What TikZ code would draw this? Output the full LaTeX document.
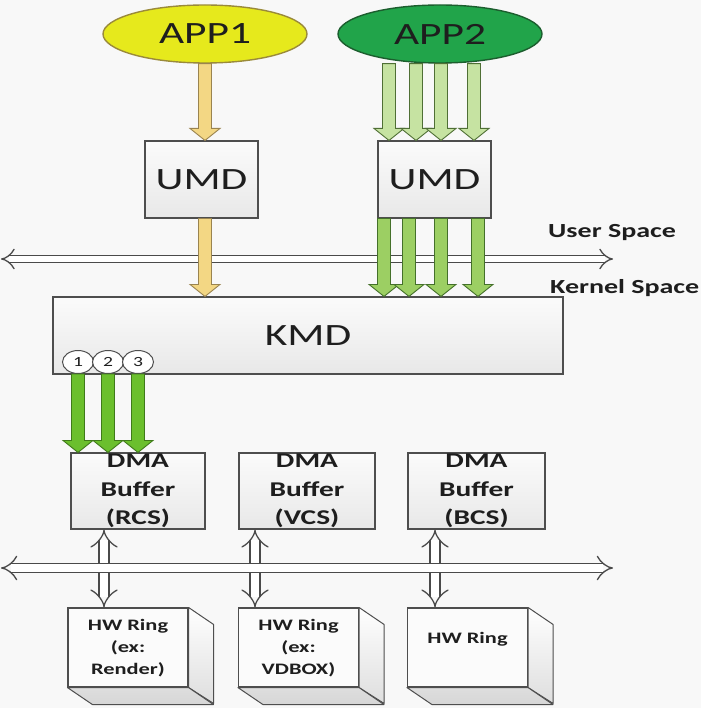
\documentclass[tikz,border=0pt]{standalone}
\usepackage{fontspec}
\setmainfont{Carlito}[FakeStretch=1.4]
\usetikzlibrary{arrows.meta,calc,shapes.geometric}

\definecolor{bg}{HTML}{F8F8F8}
\definecolor{txt}{HTML}{1E1E1E}
\definecolor{boxline}{HTML}{4E4E4E}
\definecolor{boxtop}{HTML}{FBFBFB}
\definecolor{boxbot}{HTML}{E8E8E8}
\definecolor{busline}{HTML}{4A4A4A}
\definecolor{yelfill}{HTML}{E6E91C}
\definecolor{yelline}{HTML}{9A8A3A}
\definecolor{grnfill}{HTML}{21A44A}
\definecolor{grnline}{HTML}{1C5E2E}
\definecolor{aonefill}{HTML}{F3D784}
\definecolor{aoneline}{HTML}{9A8450}
\definecolor{atwofill}{HTML}{C6E3A2}
\definecolor{atwoline}{HTML}{4F6F35}
\definecolor{amidfill}{HTML}{9CCF63}
\definecolor{amidline}{HTML}{44702A}
\definecolor{kmdfill}{HTML}{6BBF2D}
\definecolor{kmdline}{HTML}{3F7A1A}
\definecolor{sidefill}{HTML}{DEDEDE}
\definecolor{botfill}{HTML}{D6D6D6}

\newcommand\barr[3]{\draw[#1] let \p1=(#2), \p2=(#3) in
  (\x1-6.5pt,\y1) -- (\x1-6.5pt,\y2+12pt) -- (\x1-15pt,\y2+12pt) -- (\x1,\y2)
  -- (\x1+15pt,\y2+12pt) -- (\x1+6.5pt,\y2+12pt) -- (\x1+6.5pt,\y1) -- cycle;}

\begin{document}
\begin{tikzpicture}[x=1pt,y=-1pt,
  box/.style={draw=boxline, line width=1.1pt, top color=boxtop, bottom color=boxbot,
    inner sep=0pt, text=txt},
  app/.style={ellipse, line width=1.4pt, minimum width=204pt, minimum height=58pt,
    inner sep=0pt, text=txt, font=\fontsize{31}{36}\selectfont},
  big/.style={box, font=\fontsize{31}{36}\selectfont},
  dmabox/.style={box, minimum height=76pt, align=center,
    font=\fontsize{21}{28.5}\selectfont\bfseries},
  hwface/.style={draw=boxline, line width=1.1pt, fill=boxtop, minimum width=120pt,
    minimum height=79pt, inner sep=0pt},
  hwtext/.style={anchor=north, inner sep=0pt, align=center, text=txt,
    font=\fontsize{16}{22}\selectfont\bfseries},
  sidetext/.style={anchor=base west, inner sep=0pt, text=txt,
    font=\fontsize{20}{24}\selectfont\bfseries},
  num/.style={ellipse, draw=boxline, line width=1pt, fill=white, minimum width=31pt,
    minimum height=23pt, inner sep=0pt, text=txt, font=\fontsize{14}{16}\selectfont},
  bararrow/.style={line width=0.9pt, line join=miter},
  aone/.style={bararrow, fill=aonefill, draw=aoneline},
  atwo/.style={bararrow, fill=atwofill, draw=atwoline},
  amid/.style={bararrow, fill=amidfill, draw=amidline},
  akmd/.style={bararrow, fill=kmdfill, draw=kmdline},
  bus/.style={draw=busline, double=white, double distance=6pt, line width=1.3pt,
    {Implies[length=7pt,width=18pt]}-{Implies[length=7pt,width=18pt]}},
  lbus/.style={bus, double distance=7.5pt},
  vbus/.style={bus, double distance=8.5pt,
    {Implies[length=6pt,width=25pt]}-{Implies[length=6pt,width=25pt]}},
  side/.style={draw=boxline, line width=1pt, line join=round}
]
\useasboundingbox[fill=bg] (0,0) rectangle (701,708);

% apps
\node[app, fill=yelfill, draw=yelline] (app1) at (205,34) {APP1};
\node[app, fill=grnfill, draw=grnline] (app2) at (440,34) {APP2};

% UMD and KMD boxes
\node[big, minimum width=113pt, minimum height=77pt] (umd1) at (201.5,179.5) {UMD};
\node[big, minimum width=113pt, minimum height=77pt] (umd2) at (434.5,179.5) {UMD};
\node[big, minimum width=510pt, minimum height=77pt] (kmd) at (308,335.5) {KMD};

\node[sidetext] (us) at (548,238) {User Space};
\node[sidetext] (ks) at (550,293) {Kernel Space};

% DMA buffers
\node[dmabox, minimum width=134pt] (dma1) at (138,491) {DMA\\Buffer\\(RCS)};
\node[dmabox, minimum width=136pt] (dma2) at (307,491) {DMA\\Buffer\\(VCS)};
\node[dmabox, minimum width=137pt] (dma3) at (476.5,491) {DMA\\Buffer\\(BCS)};

% HW rings (cuboids)
\node[hwface] (hw1) at (128,647.5) {};
\node[hwface] (hw2) at (298.5,647.5) {};
\node[hwface] (hw3) at (467.5,647.5) {};
\foreach \h in {hw1,hw2,hw3}{
  \draw[side, top color=white, bottom color=sidefill]
    (\h.north east) -- ++(25,17) -- ++(0,79) -- (\h.south east) -- cycle;
  \draw[side, top color=sidefill, bottom color=botfill]
    (\h.south west) -- (\h.south east) -- ++(25,17) -- ($(\h.south west)+(25,17)$) -- cycle;
}
\node[hwtext] (hwt1) at (128,619) {HW Ring\\(ex:\\Render)};
\node[hwtext] (hwt2) at (298.5,619) {HW Ring\\(ex:\\VDBOX)};
\node[hwtext] (hwt3) at (467.5,632) {HW Ring};

% DMA <-> HW double arrows
\coordinate (v1) at (104,0);
\coordinate (v2) at (255,0);
\coordinate (v3) at (435,0);
\draw[vbus] (dma1.south -| v1) -- (hw1.north -| v1);
\draw[vbus] (dma2.south -| v2) -- (hw2.north -| v2);
\draw[vbus] (dma3.south -| v3) -- (hw3.north -| v3);

% buses
\coordinate (ubl) at (1,259);
\coordinate (ubr) at (613,259);
\coordinate (lbl) at (1,568);
\coordinate (lbr) at (613,568);
\draw[bus] (ubl) -- (ubr);
\draw[lbus] (lbl) -- (lbr);

% arrow x positions
\coordinate (p1) at (205,0);
\coordinate (t1) at (389,0);
\coordinate (t2) at (416,0);
\coordinate (t3) at (441,0);
\coordinate (t4) at (474,0);
\coordinate (m1) at (384,0);
\coordinate (m2) at (409,0);
\coordinate (m3) at (441,0);
\coordinate (m4) at (478,0);

% APP1 path
\barr{aone}{app1.south -| p1}{umd1.north -| p1}
\barr{aone}{umd1.south -| p1}{kmd.north -| p1}
% APP2 paths
\barr{atwo}{app2.south -| t1}{umd2.north -| t1}
\barr{atwo}{app2.south -| t2}{umd2.north -| t2}
\barr{atwo}{app2.south -| t3}{umd2.north -| t3}
\barr{atwo}{app2.south -| t4}{umd2.north -| t4}
\barr{amid}{umd2.south -| m1}{kmd.north -| m1}
\barr{amid}{umd2.south -| m2}{kmd.north -| m2}
\barr{amid}{umd2.south -| m3}{kmd.north -| m3}
\barr{amid}{umd2.south -| m4}{kmd.north -| m4}

% numbered circles and KMD arrows
\node[num] (c1) at (78,362) {1};
\node[num] (c2) at (108,362) {2};
\node[num] (c3) at (138,362) {3};
\barr{akmd}{c1.south}{dma1.north -| c1}
\barr{akmd}{c2.south}{dma1.north -| c2}
\barr{akmd}{c3.south}{dma1.north -| c3}
\end{tikzpicture}
\end{document}
